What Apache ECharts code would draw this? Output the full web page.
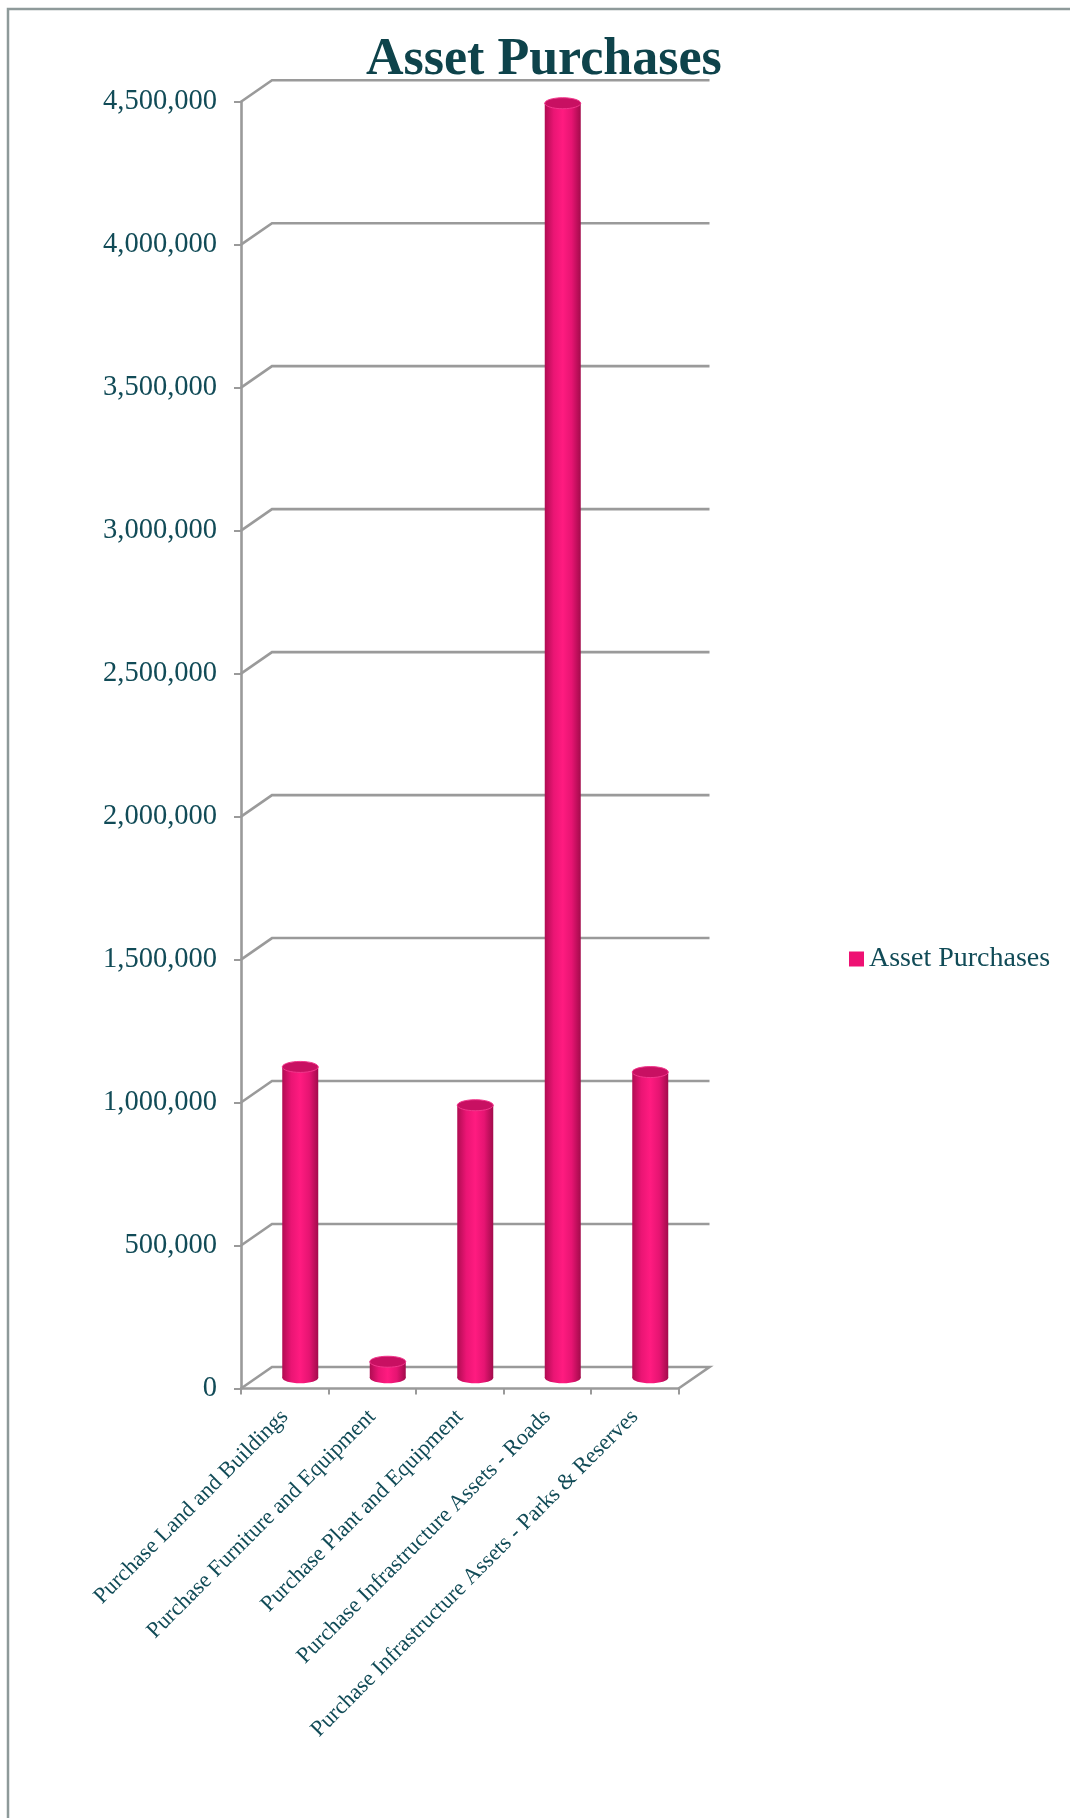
<!DOCTYPE html>
<html>
<head>
<meta charset="utf-8">
<script src="https://cdn.jsdelivr.net/npm/echarts@6/dist/echarts.min.js"></script>
<style>html,body{margin:0;padding:0;background:#fff;}#c{width:1070px;height:1818px;}</style>
</head>
<body>
<div id="c"></div>
<script>
const categories = [
  'Purchase Land and Buildings',
  'Purchase Furniture and Equipment',
  'Purchase Plant and Equipment',
  'Purchase Infrastructure Assets - Roads',
  'Purchase Infrastructure Assets - Parks & Reserves'
];
const assetPurchases = [1087000, 56000, 953000, 4457000, 1069000];
const yTicks = [0, 500000, 1000000, 1500000, 2000000, 2500000, 3000000, 3500000, 4000000, 4500000];

const DX = 31, DY = 21.5;
const GRID_COLOR = '#9A9A9A';
const TEXT_COLOR = '#114B57';
const FONT = '"Liberation Serif", serif';

const chart = echarts.init(document.getElementById('c'), null, {renderer: 'canvas'});

function wallItem(params, api) {
  const cs = params.coordSys;
  const v = api.value(0);
  const y = api.coord([0, v])[1];
  const x0 = cs.x, x1 = cs.x + cs.width;
  const pts = [[x0, y], [x0 + DX, y - DY], [x1 + DX, y - DY]];
  if (v === 0) pts.push([x1, y]);
  return {
    type: 'polyline',
    shape: {points: pts},
    style: {stroke: GRID_COLOR, lineWidth: 2.6, fill: null}
  };
}

function barItem(params, api) {
  const i = api.value(0);
  const v = api.value(1);
  const base = api.coord([i, 0]);
  const top = api.coord([i, v]);
  const rx = 18, ry = 5.5;
  const cx = base[0] + DX / 2;
  const yb = base[1] - DY / 2;
  const yt = top[1] - DY / 2;
  const grad = new echarts.graphic.LinearGradient(0, 0, 1, 0, [
    {offset: 0, color: '#B00C52'},
    {offset: 0.25, color: '#EA1574'},
    {offset: 0.5, color: '#FF1B80'},
    {offset: 0.75, color: '#E61472'},
    {offset: 1, color: '#A20B4B'}
  ]);
  return {
    type: 'group',
    children: [
      {type: 'ellipse', shape: {cx: cx, cy: yb, rx: rx, ry: ry}, style: {fill: grad}},
      {type: 'rect', shape: {x: cx - rx, y: yt, width: rx * 2, height: Math.max(0, yb - yt)}, style: {fill: grad}},
      {type: 'ellipse', shape: {cx: cx, cy: yt, rx: rx, ry: ry}, style: {fill: '#C81062', stroke: '#F2378C', lineWidth: 1}}
    ]
  };
}

chart.setOption({
  animation: false,
  backgroundColor: '#ffffff',
  title: {
    text: 'Asset Purchases',
    left: 361,
    top: 30,
    textStyle: {fontFamily: FONT, fontSize: 52, fontWeight: 'bold', color: '#0E434B'}
  },
  legend: {
    left: 844,
    top: 940,
    icon: 'rect',
    itemWidth: 15,
    itemHeight: 15,
    itemGap: 6,
    data: ['Asset Purchases'],
    textStyle: {fontFamily: FONT, fontSize: 28, color: TEXT_COLOR}
  },
  grid: {left: 241, top: 101.7, width: 437.5, height: 1286.8, containLabel: false},
  xAxis: {
    type: 'category',
    data: categories,
    axisLine: {lineStyle: {color: GRID_COLOR, width: 2.6}},
    axisTick: {show: true, length: 6, lineStyle: {color: GRID_COLOR, width: 2}},
    axisLabel: {
      interval: 0, rotate: 45, margin: 25,
      fontFamily: FONT, fontSize: 22.5, color: TEXT_COLOR
    },
    splitLine: {show: false}
  },
  yAxis: {
    type: 'value',
    min: 0, max: 4500000, interval: 500000,
    axisLine: {show: true, lineStyle: {color: GRID_COLOR, width: 2.6}},
    axisTick: {show: true, length: 7, lineStyle: {color: GRID_COLOR, width: 2}},
    axisLabel: {
      margin: 24, fontFamily: FONT, fontSize: 28.5, color: TEXT_COLOR,
      formatter: function (v) { return v.toLocaleString('en-US'); }
    },
    splitLine: {show: false}
  },
  graphic: [{
    type: 'polyline',
    shape: {points: [[8, 1818], [8, 9], [1070, 9]]},
    style: {stroke: '#8E9A9A', lineWidth: 2.5, fill: null},
    silent: true
  }],
  series: [
    {
      type: 'custom',
      name: 'walls',
      renderItem: wallItem,
      data: yTicks.map(v => [v]),
      encode: {y: 0},
      z: 1,
      silent: true
    },
    {
      type: 'custom',
      name: 'Asset Purchases',
      renderItem: barItem,
      itemStyle: {color: '#EE1173'},
      data: assetPurchases.map((v, i) => [i, v]),
      encode: {x: 0, y: 1},
      z: 3
    }
  ]
});
</script>
</body>
</html>
